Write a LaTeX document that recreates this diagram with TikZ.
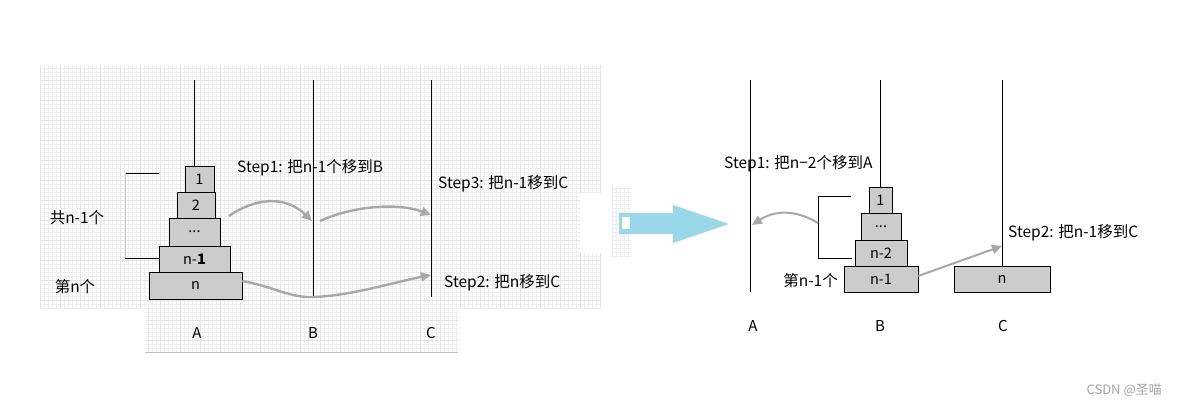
\documentclass[tikz,border=0pt]{standalone}
\usepackage{fontspec}
\setmainfont{Noto Sans CJK SC}
\usetikzlibrary{arrows.meta}
\definecolor{arrowblue}{HTML}{9AD7E8}
\definecolor{movegray}{HTML}{A8A8A8}
\tikzset{
	disk/.style={draw=black, fill=gray!40, inner sep=0pt, font=\fontsize{14.5}{16}\selectfont},
	peg/.style={draw=black, line width=0.8pt},
	move/.style={draw=movegray, line width=2.4pt, -{Triangle[length=10pt,width=9pt]}},
	steptext/.style={inner sep=0pt, font=\fontsize{15.5}{18}\selectfont},
	pegname/.style={inner sep=0pt, font=\fontsize{15}{18}\selectfont}
}
\begin{document}
\begin{tikzpicture}[x=1pt, y=-1pt, line cap=butt, line join=miter]
		\useasboundingbox (0,0) rectangle (1179,410);
		\fill[white] (0,0) rectangle (1179,410);
		% grid paper behind the left picture
		\begin{scope}
			\draw[gray!13, line width=0.3pt, step=4pt] (40,65) grid (600,308);
			\draw[gray!22, line width=0.4pt, step=20pt] (40,65) grid (600,308);
			\draw[gray!13, line width=0.3pt, step=4pt] (145,308) grid (458,352);
			\draw[gray!22, line width=0.4pt, step=20pt] (145,308) grid (458,352);
			\fill[white] (580,193) rectangle (601,253);
			\draw[gray!50, line width=0.8pt] (145,352) -- (458,352);
			\draw[gray!13, line width=0.3pt, step=4pt] (612,186) grid (631,258);
		\end{scope}
		% left: pegs and disks
		\node[disk, minimum width=29pt, minimum height=26pt] (l1) at (199.5,179) {1};
		\node[disk, minimum width=38pt, minimum height=26pt] (l2) at (196,205) {2};
		\node[disk, minimum width=51pt, minimum height=28pt] (l3) at (194.5,232) {...};
		\node[disk, line width=1pt, minimum width=71pt, minimum height=26pt] (l4) at (194.5,259) {n-\textbf{1}};
		\node[disk, minimum width=93pt, minimum height=27pt] (l5) at (195.5,285.5) {n};
		\coordinate (lAtop) at (194,80);
		\coordinate (lBtop) at (313,80);
		\coordinate (lBbot) at (313,298);
		\coordinate (lCtop) at (431,80);
		\coordinate (lCbot) at (431,297);
		\draw[peg] (lAtop) -- (lAtop |- l1.north);
		\draw[peg] (lBtop) -- (lBbot);
		\draw[peg] (lCtop) -- (lCbot);
		\draw[black, line width=0.8pt] (159,173) -- (125,173);
		\draw[gray!40, line width=0.6pt] (125,173) -- (125,258);
		\draw[black, line width=0.8pt] (125,258.5) -- (l4.west |- 125,258.5);
		\node[steptext] (lsum) at (77,218) {共n-1个};
		\node[steptext] (lbig) at (75,287) {第n个};
		\node[steptext, anchor=west] (lstep1) at (237,168) {Step1: 把n-1个移到B};
		\node[steptext, anchor=west] (lstep3) at (438,184) {Step3: 把n-1移到C};
		\node[steptext, anchor=west] (lstep2) at (444,283) {Step2: 把n移到C};
		\node[pegname] (lA) at (197,333) {A};
		\node[pegname] (lB) at (313,333) {B};
		\node[pegname] (lC) at (431,333) {C};
		\coordinate (s1from) at (229,216);
		\coordinate (s1to) at (312,221);
		\coordinate (s3from) at (320,221);
		\coordinate (s3to) at (431,215);
		\coordinate (s2low) at (313,297);
		\coordinate (s2to) at (431,275);
		\draw[move] (s1from) .. controls (255,198) and (285,195) .. (s1to);
		\draw[move] (s3from) .. controls (355,205) and (400,203) .. (s3to);
		\draw[move] (l5.east |- 0,281) .. controls (275,287) and (290,298) .. (s2low) .. controls (350,296) and (395,282) .. (s2to);
		% big arrow between the two pictures
		\fill[arrowblue] (619,213) -- (673,213) -- (673,205) -- (729,224) -- (673,243) -- (673,234) -- (619,234) -- cycle;
		\fill[white] (622,217) rectangle (630,229);
		% right: pegs and disks
		\node[disk, minimum width=23pt, minimum height=26pt] (r1) at (880.5,200) {1};
		\node[disk, minimum width=40pt, minimum height=27pt] (r2) at (881,226.5) {...};
		\node[disk, minimum width=52pt, minimum height=26pt] (r3) at (881,253) {n-2};
		\node[disk, minimum width=74pt, minimum height=26pt] (r4) at (881,279) {n-1};
		\node[disk, minimum width=96pt, minimum height=26pt] (r5) at (1002,279) {n};
		\coordinate (rAtop) at (750,80);
		\coordinate (rAbot) at (750,292);
		\coordinate (rBtop) at (880,80);
		\coordinate (rCtop) at (1002,80);
		\draw[peg] (rAtop) -- (rAbot);
		\draw[peg] (rBtop) -- (rBtop |- r1.north);
		\draw[peg] (rCtop) -- (rCtop |- r5.north);
		\draw[black, line width=0.8pt] (851,196) -- (818,196) -- (818,258) -- (852,258);
		\node[steptext, anchor=west] (rstep1) at (724,164) {Step1: 把n−2个移到A};
		\node[steptext, anchor=west] (rstep2) at (1008,233) {Step2: 把n-1移到C};
		\node[steptext, anchor=east] (rbig) at (838,281) {第n-1个};
		\node[pegname] (rA) at (753,326) {A};
		\node[pegname] (rB) at (880,326) {B};
		\node[pegname] (rC) at (1003,326) {C};
		\coordinate (t1from) at (818,223);
		\coordinate (t1to) at (752,225);
		\coordinate (t2to) at (1002,246);
		\draw[move, line width=2pt] (t1from) .. controls (800,212) and (778,208) .. (t1to);
		\draw[move, line width=2pt] (r4.east |- 0,276) -- (t2to);
		% watermark
		\node[anchor=east, inner sep=0pt, text=gray!70, font=\fontsize{13}{15}\selectfont] (mark) at (1162,390) {CSDN @圣喵};
	\end{tikzpicture}
\end{document}
